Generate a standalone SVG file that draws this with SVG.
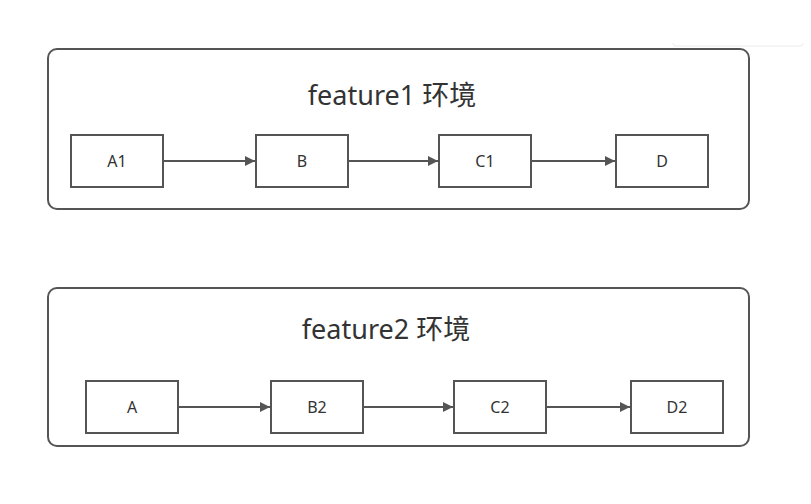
<svg xmlns="http://www.w3.org/2000/svg" width="811" height="504" viewBox="0 0 811 504">
<defs>
<style>
.container{fill:#ffffff;stroke:#555555;stroke-width:2}
.box{fill:#ffffff;stroke:#555555;stroke-width:2}
.title{font-family:"Noto Sans","Noto Sans CJK SC",sans-serif;font-size:27px;fill:#333333;text-anchor:middle}
.label{font-family:"Noto Sans","Noto Sans CJK SC",sans-serif;font-size:16px;fill:#333333;text-anchor:middle}
.conn{stroke:#555555;stroke-width:2;fill:none;marker-end:url(#arrow)}
</style>
<marker id="arrow" viewBox="0 0 10 10" refX="10" refY="5" markerWidth="5.5" markerHeight="5" markerUnits="strokeWidth" orient="auto">
<path d="M0,0 L10,5 L0,10 Z" fill="#555555"/>
</marker>
</defs>
<rect width="811" height="504" fill="#ffffff"/>
<path d="M673,43 Q673,46 676,46 L800,46 Q803,46 803,43" fill="none" stroke="#ececec" stroke-width="1"/>
<g id="env1">
<rect class="container" x="48" y="49" width="701" height="160" rx="9"/>
<text class="title" x="392" y="105">feature1 环境</text>
</g>
<g id="env2">
<rect class="container" x="48" y="288" width="701" height="158" rx="9"/>
<text class="title" x="386" y="339">feature2 环境</text>
</g>
<g id="A1"><rect class="box" x="71" y="135" width="92" height="52"/><text class="label" x="117" y="167">A1</text></g>
<g id="B"><rect class="box" x="256" y="135" width="92" height="52"/><text class="label" x="302" y="167">B</text></g>
<g id="C1"><rect class="box" x="439" y="135" width="92" height="52"/><text class="label" x="485" y="167">C1</text></g>
<g id="D"><rect class="box" x="616" y="135" width="92" height="52"/><text class="label" x="662" y="167">D</text></g>
<g id="A"><rect class="box" x="86" y="381" width="92" height="52"/><text class="label" x="132" y="413">A</text></g>
<g id="B2"><rect class="box" x="271" y="381" width="92" height="52"/><text class="label" x="317" y="413">B2</text></g>
<g id="C2"><rect class="box" x="454" y="381" width="92" height="52"/><text class="label" x="500" y="413">C2</text></g>
<g id="D2"><rect class="box" x="631" y="381" width="92" height="52"/><text class="label" x="677" y="413">D2</text></g>
<g id="connectors">
<line class="conn" x1="164" y1="161" x2="255" y2="161"/>
<line class="conn" x1="349" y1="161" x2="438" y2="161"/>
<line class="conn" x1="532" y1="161" x2="615" y2="161"/>
<line class="conn" x1="179" y1="407" x2="270" y2="407"/>
<line class="conn" x1="364" y1="407" x2="453" y2="407"/>
<line class="conn" x1="547" y1="407" x2="630" y2="407"/>
</g>
</svg>
